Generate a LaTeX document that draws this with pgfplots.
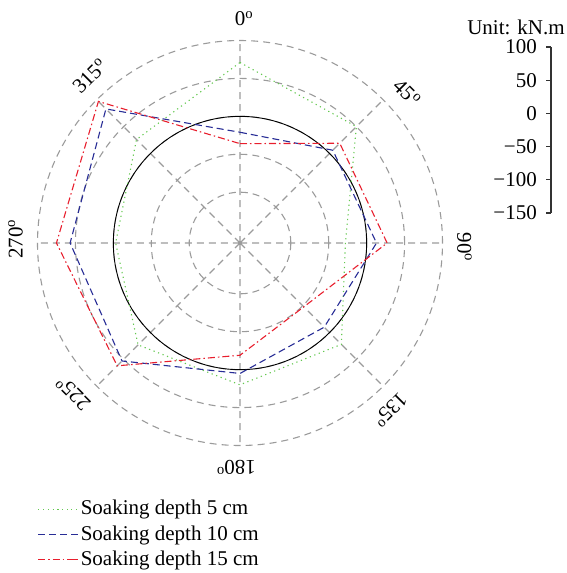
\documentclass[border=0pt]{standalone}
\usepackage{pgfplots}
\pgfplotsset{compat=1.18}
\usepackage{pgfplotstable}
\usepgfplotslibrary{polar}
\usepackage{fontspec}
\setmainfont{Liberation Serif}
\definecolor{cg}{RGB}{100,200,80}
\definecolor{cb}{RGB}{40,45,150}
\definecolor{cr}{RGB}{232,30,45}
\definecolor{gridgray}{RGB}{155,155,155}
\pgfplotstableread{
a g b r
0 71 -21 -36
45 50 6 19
90 -28 13 27
135 22 -10 -48
180 20 5 -19
225 23 53 62
270 -3 57 75
315 26 83 97
360 71 -21 -36
}\data
\begin{document}
\fontsize{21bp}{25bp}\selectfont
\begin{tikzpicture}[font=\fontsize{21bp}{25bp}\selectfont]
\path[use as bounding box] (0,0) rectangle (567bp,-573bp);
\begin{polaraxis}[
  at={(240bp,-243bp)}, anchor=center,
  width=405bp, height=405bp, scale only axis,
  xmin=0, xmax=360, ymin=0, ymax=267,
  xtick={0,45,...,315}, ytick={67,117,167,217,267},
  xticklabels={}, yticklabels={},
  grid=major,
  major grid style={gridgray, line width=1.1bp, dash pattern=on 7bp off 5bp},
  extra y ticks={167}, extra y tick labels={},
  extra y tick style={major grid style={black, solid, line width=0.9bp}},
  axis line style={draw=none},
  major tick length=0pt,
  clip=false,
  legend style={draw=none, fill=none, at={(0,-0.125)}, anchor=north west,
    cells={anchor=west}, row sep=3.5bp, inner xsep=0pt,
    font=\fontsize{21bp}{25bp}\selectfont},
  legend image code/.code={\draw[#1] (0bp,0bp) -- (33bp,0bp); \path (33bp,0bp) -- (40bp,0bp);},
]
\addplot[cg, line width=1.1bp, dash pattern=on 1.2bp off 3.6bp]
  table[x expr=90-\thisrow{a}, y expr=\thisrow{g}+167]{\data};
\addlegendentry{Soaking depth 5 cm}
\addplot[cb, line width=1.1bp, dash pattern=on 7bp off 4bp]
  table[x expr=90-\thisrow{a}, y expr=\thisrow{b}+167]{\data};
\addlegendentry{Soaking depth 10 cm}
\addplot[cr, line width=1.1bp, dash pattern=on 7bp off 3bp on 1.5bp off 3bp]
  table[x expr=90-\thisrow{a}, y expr=\thisrow{r}+167]{\data};
\addlegendentry{Soaking depth 15 cm}
\node[rotate=0] at (axis cs:90,296) {0\rlap{\textsuperscript{o}}};
\node[rotate=-45] at (axis cs:43,296) {45\rlap{\textsuperscript{o}}};
\node[rotate=-90] at (axis cs:0,296) {90\rlap{\textsuperscript{o}}};
\node[rotate=-135] at (axis cs:-47,296) {135\rlap{\textsuperscript{o}}};
\node[rotate=180] at (axis cs:-90,296) {180\rlap{\textsuperscript{o}}};
\node[rotate=135] at (axis cs:-137,296) {225\rlap{\textsuperscript{o}}};
\node[rotate=90] at (axis cs:180,296) {270\rlap{\textsuperscript{o}}};
\node[rotate=45] at (axis cs:133,296) {315\rlap{\textsuperscript{o}}};
\end{polaraxis}
\begin{axis}[
  at={(551bp,-213bp)}, anchor=south west,
  width=1bp, height=166bp, scale only axis,
  xmin=0, xmax=1, ymin=-150, ymax=100,
  axis y line=left, axis x line=none,
  y axis line style={-, line width=1.1bp, black!80},
  ytick={-150,-100,-50,0,50,100},
  yticklabels={−150,−100,−50,0,50,100},
  tick align=outside, major tick length=5bp,
  ytick style={line width=1.1bp, black!80},
  yticklabel style={font=\fontsize{21bp}{25bp}\selectfont, inner xsep=1bp, xshift=-8bp},
]
\end{axis}
\node at (516bp,-27bp) {Unit: kN.m};
\end{tikzpicture}
\end{document}
